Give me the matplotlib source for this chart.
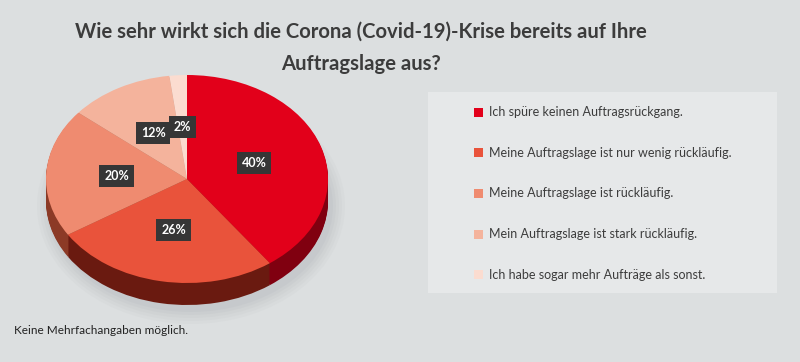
import matplotlib
matplotlib.use("Agg")
import matplotlib.pyplot as plt
from matplotlib.patches import Rectangle, Ellipse
from matplotlib.transforms import Affine2D

# data
answers = [
    "Ich spüre keinen Auftragsrückgang.",
    "Meine Auftragslage ist nur wenig rückläufig.",
    "Meine Auftragslage ist rückläufig.",
    "Mein Auftragslage ist stark rückläufig.",
    "Ich habe sogar mehr Aufträge als sonst.",
]
shares = [40, 26, 20, 12, 2]
top_colors = ["#e2001a", "#e9533b", "#ef8b70", "#f4b39c", "#fbdcd0"]
side_colors = ["#800010", "#6a1a10", "#8c3a26", "#a86650", "#c8a090"]

title = "Wie sehr wirkt sich die Corona (Covid-19)-Krise bereits auf Ihre\nAuftragslage aus?"
note = "Keine Mehrfachangaben möglich."

bg = "#dcdfe0"
txt = "#3c3c3c"

fig = plt.figure(figsize=(8, 3.62), dpi=100, facecolor=bg)
ax = fig.add_axes([0, 0, 1, 1])
ax.set_facecolor(bg)

# pie geometry in pixel space
cx, cy, rx, ry, depth = 187, 179, 141, 104, 22

# soft shadow under the pie
for i, a in enumerate([0.05, 0.05, 0.06, 0.07, 0.08]):
    ax.add_patch(Ellipse((cx + 4, cy + depth + 5), 2 * rx + 26 - 6 * i, 2 * ry + 28 - 6 * i,
                         fc="#959a9e", ec="none", alpha=a, zorder=0))

# side walls: stack of darker pies shifted down
for d in range(depth, 0, -1):
    tr = Affine2D().scale(rx, -ry).translate(cx, cy + d) + ax.transData
    wedges, _ = ax.pie(shares, colors=side_colors, startangle=90, counterclock=False,
                       wedgeprops=dict(linewidth=0))
    for w in wedges:
        w.set_transform(tr)
        w.set_zorder(1)

# top face
tr = Affine2D().scale(rx, -ry).translate(cx, cy) + ax.transData
wedges, _, autotexts = ax.pie(shares, colors=top_colors, startangle=90, counterclock=False,
                              autopct=lambda p: f"{p:.0f}%", pctdistance=0.5,
                              wedgeprops=dict(linewidth=0))
for w in wedges:
    w.set_transform(tr)
    w.set_zorder(2)
for t in autotexts:
    t.set_transform(tr)
    t.set_zorder(3)
    t.set_color("white")
    t.set_fontsize(9)
    t.set_fontweight("bold")
    t.set_family("Lato")
    t.set_bbox(dict(boxstyle="square,pad=0.4", fc="#363636", ec="none"))

ax.set_aspect("auto")
ax.set_xlim(0, 800)
ax.set_ylim(362, 0)
ax.axis("off")

# title
fig.text(0.451, 0.94, title, ha="center", va="top", fontsize=14.6, fontweight="bold",
         color=txt, family="Lato", linespacing=1.75)

# legend panel
ax.add_patch(Rectangle((428, 92), 349, 201, fc="#e6e8e9", ec="none", zorder=1))
for i, (lab, col) in enumerate(zip(answers, top_colors)):
    y = 112 + i * 40.7
    ax.add_patch(Rectangle((474, y - 4.5), 9, 9, fc=col, ec="none", zorder=2))
    ax.text(489, y, lab, ha="left", va="center", fontsize=9, color=txt,
            family="Lato", zorder=3)

ax.text(14, 331, note, ha="left", va="center", fontsize=8.5, color="#222222", family="Lato")

fig.savefig("out.png", dpi=100, facecolor=bg)
